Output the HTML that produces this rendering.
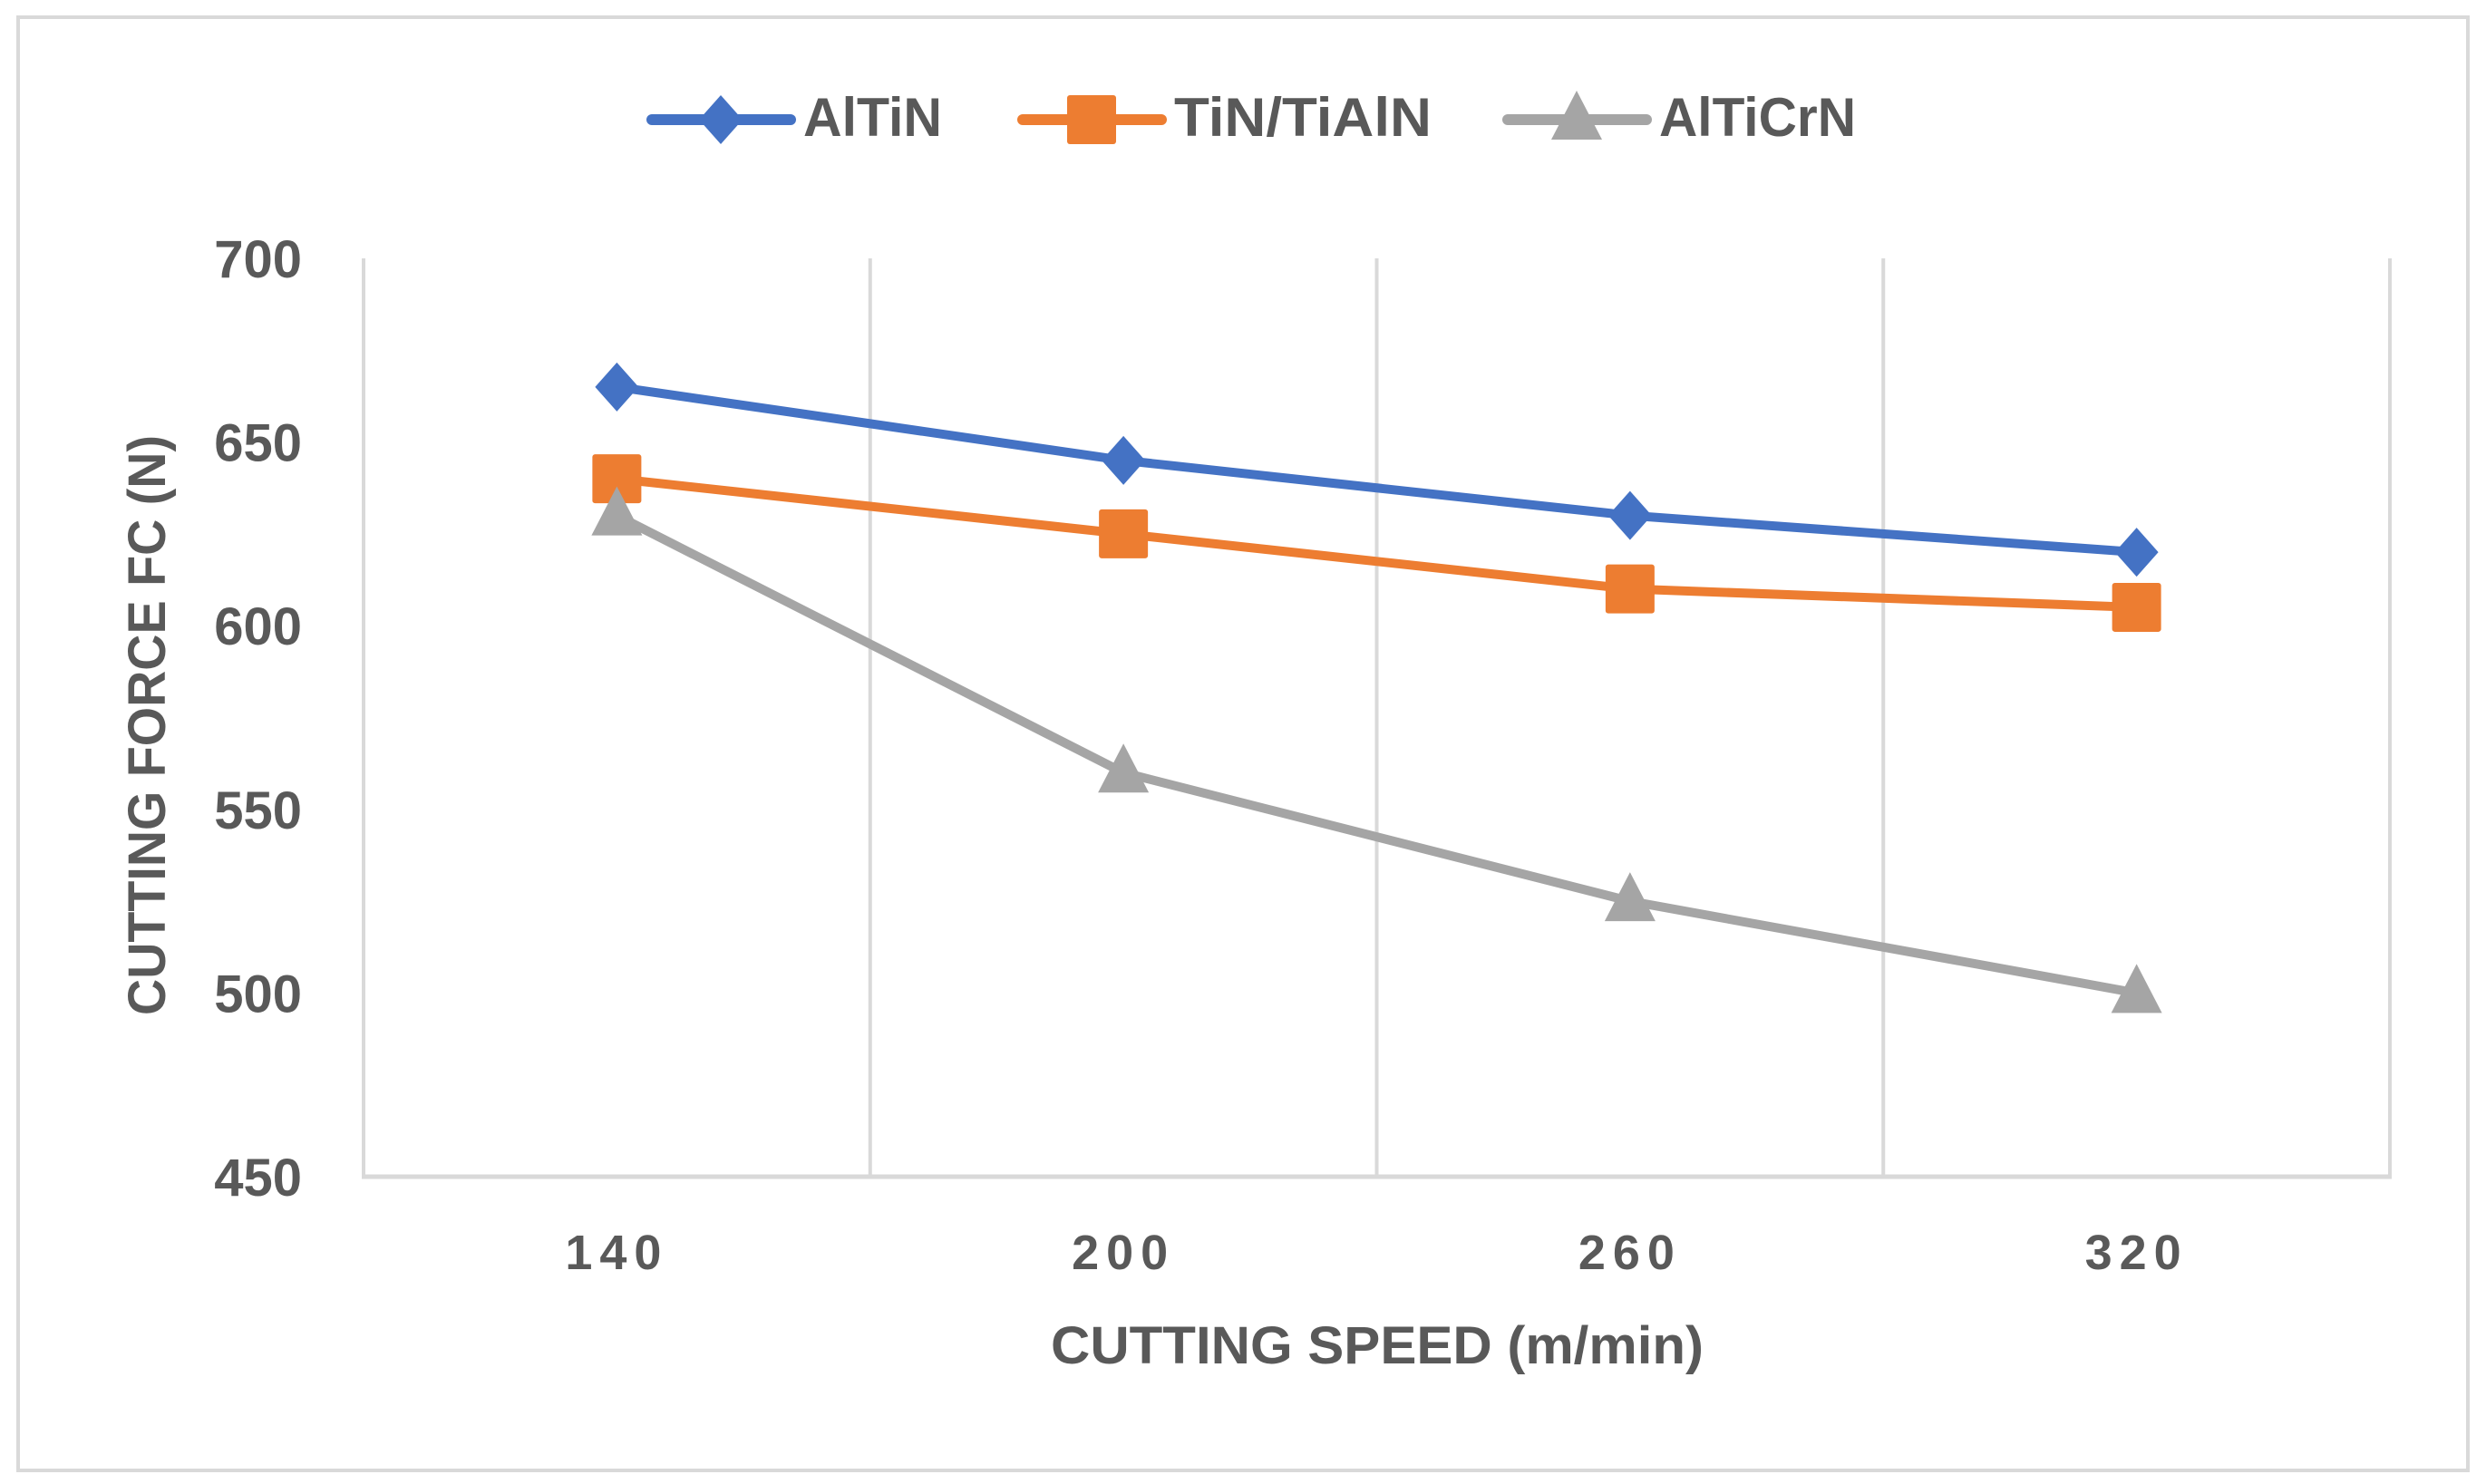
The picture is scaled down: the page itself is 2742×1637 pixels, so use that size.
<!DOCTYPE html>
<html><head><meta charset="utf-8"><style>
html,body{margin:0;padding:0;background:#fff}
svg{display:block}
text{font-family:"Liberation Sans",sans-serif;fill:#595959;font-weight:bold}
</style></head><body>
<svg id="chart" width="2742" height="1637" viewBox="0 0 2742 1637" xmlns="http://www.w3.org/2000/svg">
<rect x="20" y="19" width="2702" height="1603" fill="#fff" stroke="#d9d9d9" stroke-width="4"/>
<g id="grid"></g>
<g id="axes"></g>
<g id="series"></g>
<g id="legend"></g>
<text x="1519" y="1504" font-size="58" text-anchor="middle" textLength="720" lengthAdjust="spacingAndGlyphs">CUTTING SPEED (m/min)</text>
<text x="0" y="0" font-size="58" text-anchor="middle" textLength="640" lengthAdjust="spacingAndGlyphs" transform="translate(182,800) rotate(-90)">CUTTING FORCE FC (N)</text>
</svg>
<script>
const categories = ["140", "200", "260", "320"];
const yTicks = [450, 500, 550, 600, 650, 700];
const seriesNames = ["AlTiN", "TiN/TiAlN", "AlTiCrN"];
const altinValues = [665, 645, 630, 620];
const tinTialnValues = [640, 625, 610, 605];
const alticrnValues = [630, 560, 525, 500];

const NS = "http://www.w3.org/2000/svg";
const plotLeft = 401, plotRight = 2636, plotTop = 285, plotBottom = 1298;
const yMin = 450, yMax = 700;
const band = (plotRight - plotLeft) / categories.length;
function xPos(i) { return plotLeft + band * (i + 0.5); }
function yPos(v) { return plotBottom - (v - yMin) / (yMax - yMin) * (plotBottom - plotTop); }
function mk(tag, attrs, parent) {
  const e = document.createElementNS(NS, tag);
  for (const k in attrs) e.setAttribute(k, attrs[k]);
  parent.appendChild(e);
  return e;
}
const gridG = document.getElementById('grid');
const axesG = document.getElementById('axes');
const seriesG = document.getElementById('series');
const legendG = document.getElementById('legend');

for (let i = 0; i <= categories.length; i++) {
  const x = plotLeft + band * i;
  const l = mk('line', {x1: x, x2: x, y1: plotTop, y2: plotBottom, stroke: '#d9d9d9', 'stroke-width': 4}, gridG);
  
  
}
const ax = mk('line', {x1: plotLeft - 2, x2: plotRight + 2, y1: plotBottom, y2: plotBottom, stroke: '#d9d9d9', 'stroke-width': 5}, axesG);



yTicks.forEach(v => {
  const t = mk('text', {x: 333, y: yPos(v) + 21, 'font-size': 58, 'text-anchor': 'end'}, axesG);
  t.textContent = String(v);
  
  
});
categories.forEach((c, i) => {
  const t = mk('text', {x: xPos(i), y: 1400, 'font-size': 54, 'text-anchor': 'middle', 'letter-spacing': 8}, axesG);
  t.textContent = c;
  
  
});

const colors = ['#4472c4', '#ed7d31', '#a5a5a5'];
const shapes = ['diamond', 'square', 'triangle'];
function marker(shape, x, y, color, parent) {
  let e;
  if (shape === 'diamond') e = mk('polygon', {points: `${x},${y-27} ${x+24},${y} ${x},${y+27} ${x-24},${y}`, fill: color}, parent);
  else if (shape === 'square') e = mk('rect', {x: x-27, y: y-27, width: 54, height: 54, rx: 3, fill: color}, parent);
  else e = mk('polygon', {points: `${x},${y-32} ${x+28},${y+22} ${x-28},${y+22}`, fill: color}, parent);
  return e;
}
const allSeries = [altinValues, tinTialnValues, alticrnValues];
allSeries.forEach((vals, s) => {
  const g = mk('g', {}, seriesG);
  
  
  const pts = vals.map((v, i) => `${xPos(i)},${yPos(v)}`).join(' ');
  const pl = mk('polyline', {points: pts, fill: 'none', stroke: colors[s], 'stroke-width': 10, 'stroke-linejoin': 'round', 'stroke-linecap': 'round'}, g);
  
  
  vals.forEach((v, i) => {
    const m = marker(shapes[s], xPos(i), yPos(v), colors[s], g);
    
    
  });
});

const legX = [714, 1123, 1658];
const legTextW = [153, 284, 217];
seriesNames.forEach((n, s) => {
  const g = mk('g', {}, legendG);
  
  
  const x0 = legX[s], y = 132;
  mk('line', {x1: x0 + 5, x2: x0 + 158, y1: y, y2: y, stroke: colors[s], 'stroke-width': 12, 'stroke-linecap': 'round'}, g);
  marker(shapes[s], x0 + 81, y, colors[s], g);
  const t = mk('text', {x: x0 + 172, y: 150, 'font-size': 60, textLength: legTextW[s], lengthAdjust: 'spacingAndGlyphs'}, g);
  t.textContent = n;
});
</script>
</body></html>
